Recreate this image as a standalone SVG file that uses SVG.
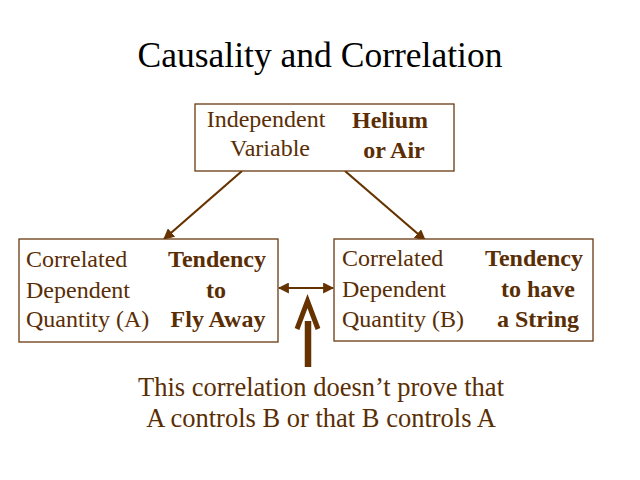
<svg xmlns="http://www.w3.org/2000/svg" width="640" height="480" viewBox="0 0 640 480">
<defs>
<style>
text{font-family:"Liberation Serif","Times New Roman",serif;fill:#5a2e05}
.t{font-size:24px}
.b{font-size:24px;font-weight:bold}
.box{fill:#fff;stroke:#6b3a10;stroke-width:1.3}
.ln{stroke:#663300;stroke-width:2.2;fill:none}
</style>
<marker id="ah" viewBox="0 0 10 10" refX="9" refY="5" markerWidth="5" markerHeight="5" orient="auto-start-reverse" markerUnits="strokeWidth">
<path d="M0,0 L10,5 L0,10 Z" fill="#663300"/>
</marker>
</defs>
<rect width="640" height="480" fill="#fff"/>
<text x="320" y="67" text-anchor="middle" style="font-size:35.5px;fill:#000">Causality and Correlation</text>

<g id="connectors">
<line class="ln" x1="242" y1="171" x2="164" y2="239" marker-end="url(#ah)"/>
<line class="ln" x1="345" y1="171" x2="425" y2="240" marker-end="url(#ah)"/>
<line class="ln" x1="279" y1="288" x2="333" y2="288" marker-start="url(#ah)" marker-end="url(#ah)"/>
<g id="pointer">
<line x1="308" y1="321" x2="308" y2="367" stroke="#663300" stroke-width="6.5"/>
<polyline points="297,329 307.5,301 318,329" fill="none" stroke="#663300" stroke-width="5" stroke-linejoin="miter"/>
</g>
</g>

<g id="independent">
<rect class="box" x="195" y="104" width="259" height="67"/>
<text class="t" x="266" y="127" text-anchor="middle">Independent</text>
<text class="t" x="270" y="156" text-anchor="middle">Variable</text>
<text class="b" x="390" y="128" text-anchor="middle">Helium</text>
<text class="b" x="394" y="158" text-anchor="middle">or Air</text>
</g>

<g id="depA">
<rect class="box" x="19" y="239" width="259" height="103"/>
<text class="t" x="26" y="267">Correlated</text>
<text class="t" x="26" y="298">Dependent</text>
<text class="t" x="26" y="327">Quantity (A)</text>
<text class="b" x="217" y="267" text-anchor="middle">Tendency</text>
<text class="b" x="216" y="298" text-anchor="middle">to</text>
<text class="b" x="218" y="327" text-anchor="middle">Fly Away</text>
</g>

<g id="depB">
<rect class="box" x="334" y="239" width="259" height="102"/>
<text class="t" x="342" y="266">Correlated</text>
<text class="t" x="342" y="297">Dependent</text>
<text class="t" x="342" y="327">Quantity (B)</text>
<text class="b" x="534" y="266" text-anchor="middle">Tendency</text>
<text class="b" x="538" y="297" text-anchor="middle">to have</text>
<text class="b" x="538" y="327" text-anchor="middle">a String</text>
</g>

<g id="note">
<text x="321" y="396" text-anchor="middle" style="font-size:26.5px">This correlation doesn’t prove that</text>
<text x="321" y="427" text-anchor="middle" style="font-size:26.5px">A controls B or that B controls A</text>
</g>
</svg>
